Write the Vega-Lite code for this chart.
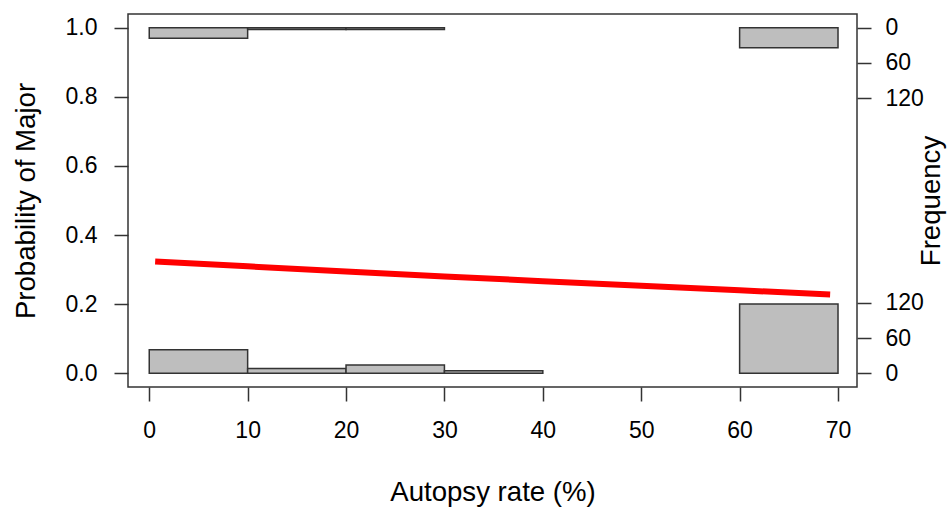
{
  "$schema": "https://vega.github.io/schema/vega-lite/v6.json",
  "width": 729,
  "height": 373,
  "autosize": {"type": "none"},
  "padding": {"left": 128, "top": 14, "right": 91, "bottom": 120},
  "background": "white",
  "datasets": {
    "hist": [
      {"lo": 0, "hi": 10, "n": 40, "side": "bottom"},
      {"lo": 10, "hi": 20, "n": 8, "side": "bottom"},
      {"lo": 20, "hi": 30, "n": 14, "side": "bottom"},
      {"lo": 30, "hi": 40, "n": 4, "side": "bottom"},
      {"lo": 60, "hi": 70, "n": 118, "side": "bottom"},
      {"lo": 0, "hi": 10, "n": 18, "side": "top"},
      {"lo": 10, "hi": 20, "n": 3, "side": "top"},
      {"lo": 20, "hi": 30, "n": 3, "side": "top"},
      {"lo": 60, "hi": 70, "n": 34, "side": "top"}
    ],
    "fit": [
      {"x": 0.6, "p": 0.3236},
      {"x": 10, "p": 0.3093},
      {"x": 20, "p": 0.2946},
      {"x": 30, "p": 0.2802},
      {"x": 40, "p": 0.2663},
      {"x": 50, "p": 0.2529},
      {"x": 60, "p": 0.2399},
      {"x": 69.2, "p": 0.2280}
    ]
  },
  "layer": [
    {
      "data": {"name": "hist"},
      "transform": [{"filter": "datum.side == 'bottom'"}],
      "mark": {"type": "rect", "fill": "#BEBEBE", "stroke": "#333333", "strokeWidth": 1.5},
      "encoding": {
        "x": {"field": "lo", "type": "quantitative", "scale": {"domain": [-2.16, 71.93], "nice": false, "zero": false},
              "axis": {"values": [0, 10, 20, 30, 40, 50, 60, 70], "title": "Autopsy rate (%)", "labelPadding": 18,
                       "titleX": 364.5, "titleY": 91, "titleBaseline": "top", "titleAlign": "center", "labelFlush": false}},
        "x2": {"field": "hi"},
        "y": {"field": "n", "type": "quantitative", "scale": {"domain": [-23.6, 613.6], "nice": false, "zero": false},
              "axis": {"orient": "right", "values": [0, 60, 120, 470, 530, 590],
                       "labelExpr": "datum.value > 300 ? format(590 - datum.value, 'd') : format(datum.value, 'd')",
                       "title": "Frequency", "labelPadding": 14, "titleAngle": 270, "titleX": 60, "titleY": 186.5,
                       "titleBaseline": "top", "titleAlign": "center", "labelOverlap": false, "labelFlush": false}},
        "y2": {"datum": 0}
      }
    },
    {
      "data": {"name": "hist"},
      "transform": [{"filter": "datum.side == 'top'"}],
      "mark": {"type": "rect", "fill": "#BEBEBE", "stroke": "#333333", "strokeWidth": 1.5},
      "encoding": {
        "x": {"field": "lo", "type": "quantitative", "scale": {"domain": [-2.16, 71.93], "nice": false, "zero": false}},
        "x2": {"field": "hi"},
        "y": {"field": "n", "type": "quantitative", "scale": {"domain": [-23.6, 613.6], "nice": false, "zero": false, "reverse": true}, "axis": null},
        "y2": {"datum": 0}
      }
    },
    {
      "data": {"name": "fit"},
      "mark": {"type": "line", "color": "#FF0000", "strokeWidth": 6, "strokeCap": "butt"},
      "encoding": {
        "x": {"field": "x", "type": "quantitative", "scale": {"domain": [-2.16, 71.93], "nice": false, "zero": false}},
        "y": {"field": "p", "type": "quantitative", "scale": {"domain": [-0.04, 1.04], "nice": false, "zero": false},
              "axis": {"orient": "left", "values": [0, 0.2, 0.4, 0.6, 0.8, 1.0], "format": ".1f", "title": "Probability of Major",
                       "labelPadding": 17, "titleAngle": 270, "titleX": -116, "titleY": 186.5, "titleBaseline": "top",
                       "titleAlign": "center", "labelOverlap": false, "labelFlush": false}}
      }
    }
  ],
  "resolve": {"scale": {"y": "independent"}, "axis": {"y": "independent"}},
  "config": {
    "font": "Liberation Sans",
    "view": {"stroke": "#333333", "strokeWidth": 1.5},
    "axis": {
      "domain": false,
      "grid": false,
      "ticks": true,
      "tickColor": "#333333",
      "tickWidth": 1.5,
      "tickSize": 14,
      "labelFont": "Liberation Sans",
      "labelFontSize": 23,
      "labelColor": "#000000",
      "titleFont": "Liberation Sans",
      "titleFontSize": 27.6,
      "titleFontWeight": "normal",
      "titleColor": "#000000"
    }
  }
}
